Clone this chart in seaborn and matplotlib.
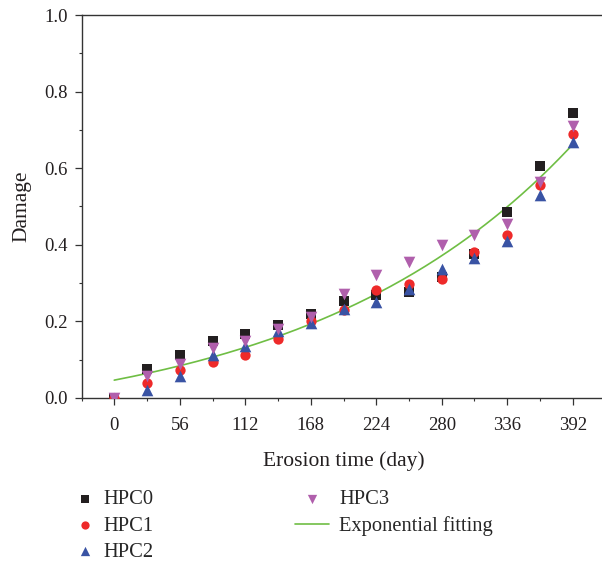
import numpy as np
import pandas as pd
import matplotlib
matplotlib.use("Agg")
import matplotlib.pyplot as plt
import seaborn as sns
from matplotlib.ticker import MultipleLocator

sns.set_theme(style="ticks")
plt.rcParams['font.family'] = ['Liberation Serif', 'DejaVu Serif']

days = [0, 28, 56, 84, 112, 140, 168, 196, 224, 252, 280, 308, 336, 364, 392]
hpc0 = [0.0, 0.075, 0.113, 0.150, 0.168, 0.190, 0.220, 0.252, 0.270, 0.278, 0.315, 0.375, 0.485, 0.607, 0.745]
hpc1 = [0.0, 0.038, 0.073, 0.095, 0.113, 0.155, 0.200, 0.230, 0.283, 0.298, 0.310, 0.380, 0.425, 0.555, 0.690]
hpc2 = [0.0, 0.020, 0.058, 0.113, 0.135, 0.175, 0.195, 0.232, 0.250, 0.285, 0.338, 0.365, 0.410, 0.530, 0.668]
hpc3 = [0.0, 0.058, 0.090, 0.130, 0.148, 0.180, 0.212, 0.272, 0.320, 0.355, 0.400, 0.425, 0.455, 0.565, 0.710]
series_names = ["HPC0", "HPC1", "HPC2", "HPC3"]
fit_label = "Exponential fitting"
# exponential fit y = y0 + A*exp(x/t), parameters
fit_y0, fit_A, fit_t = -0.089, 0.1356, 229.0
x_ticks = [0, 56, 112, 168, 224, 280, 336, 392]

colors = ["#231f20", "#ee2a2a", "#3953a4", "#b05fac"]
markers = ["s", "o", "^", "v"]
sizes = [45, 55, 70, 70]

fig = plt.figure(figsize=(6.02, 5.61), dpi=100)
ax = fig.add_axes([81.5 / 602, (561 - 398) / 561, 524 / 602, 383 / 561])

for name, vals, c, m, s in zip(series_names, [hpc0, hpc1, hpc2, hpc3], colors, markers, sizes):
    df = pd.DataFrame({"day": days, "damage": vals})
    sns.scatterplot(data=df, x="day", y="damage", ax=ax, color=c, marker=m, s=s,
                    linewidth=0, label=name, zorder=3)

xf = np.linspace(days[0], days[-1], 200)
fit_df = pd.DataFrame({"day": xf, "damage": fit_y0 + fit_A * np.exp(xf / fit_t)})
sns.lineplot(data=fit_df, x="day", y="damage", ax=ax, color="#6fbe44", linewidth=1.2,
             label=fit_label, zorder=2)

ax.set_xlim(-28, 420)
ax.set_ylim(0, 1.0)
ax.set_xticks(x_ticks)
ax.xaxis.set_minor_locator(MultipleLocator(28))
ax.yaxis.set_major_locator(MultipleLocator(0.2))
ax.yaxis.set_minor_locator(MultipleLocator(0.1))
ax.set_yticklabels([f"{v:.1f}" for v in ax.get_yticks()])
ax.tick_params(which="major", direction="out", length=5, width=0.9, color="#333333",
               labelsize=13.5, labelcolor="#231f20")
ax.tick_params(axis="x", which="major", pad=9)
ax.tick_params(axis="y", which="major", pad=5)
ax.tick_params(which="minor", direction="out", length=2.5, width=0.8, color="#333333")
for sp in ["left", "bottom", "top"]:
    ax.spines[sp].set_color("#333333")
    ax.spines[sp].set_linewidth(1.0)
ax.spines["right"].set_visible(False)
ax.set_xlabel("Erosion time (day)", fontsize=15.5, color="#231f20", labelpad=12)
ax.set_ylabel("Damage", fontsize=15.5, color="#231f20", labelpad=9)

handles, labels = ax.get_legend_handles_labels()
if ax.legend_:
    ax.legend_.remove()

leg_kw = dict(loc="upper left", frameon=False, fontsize=14.8, borderpad=0, borderaxespad=0,
              labelspacing=0.33, markerscale=0.8)
leg1 = fig.legend(handles[:3], labels[:3], bbox_to_anchor=(77 / 602, 1 - 490 / 561),
                  handlelength=0.8, handletextpad=0.5, **leg_kw)
leg2 = fig.legend(handles[3:], labels[3:], bbox_to_anchor=(295 / 602, 1 - 490 / 561),
                  handlelength=1.65, handletextpad=0.5, **leg_kw)

fig.savefig("out.png", dpi=100)
